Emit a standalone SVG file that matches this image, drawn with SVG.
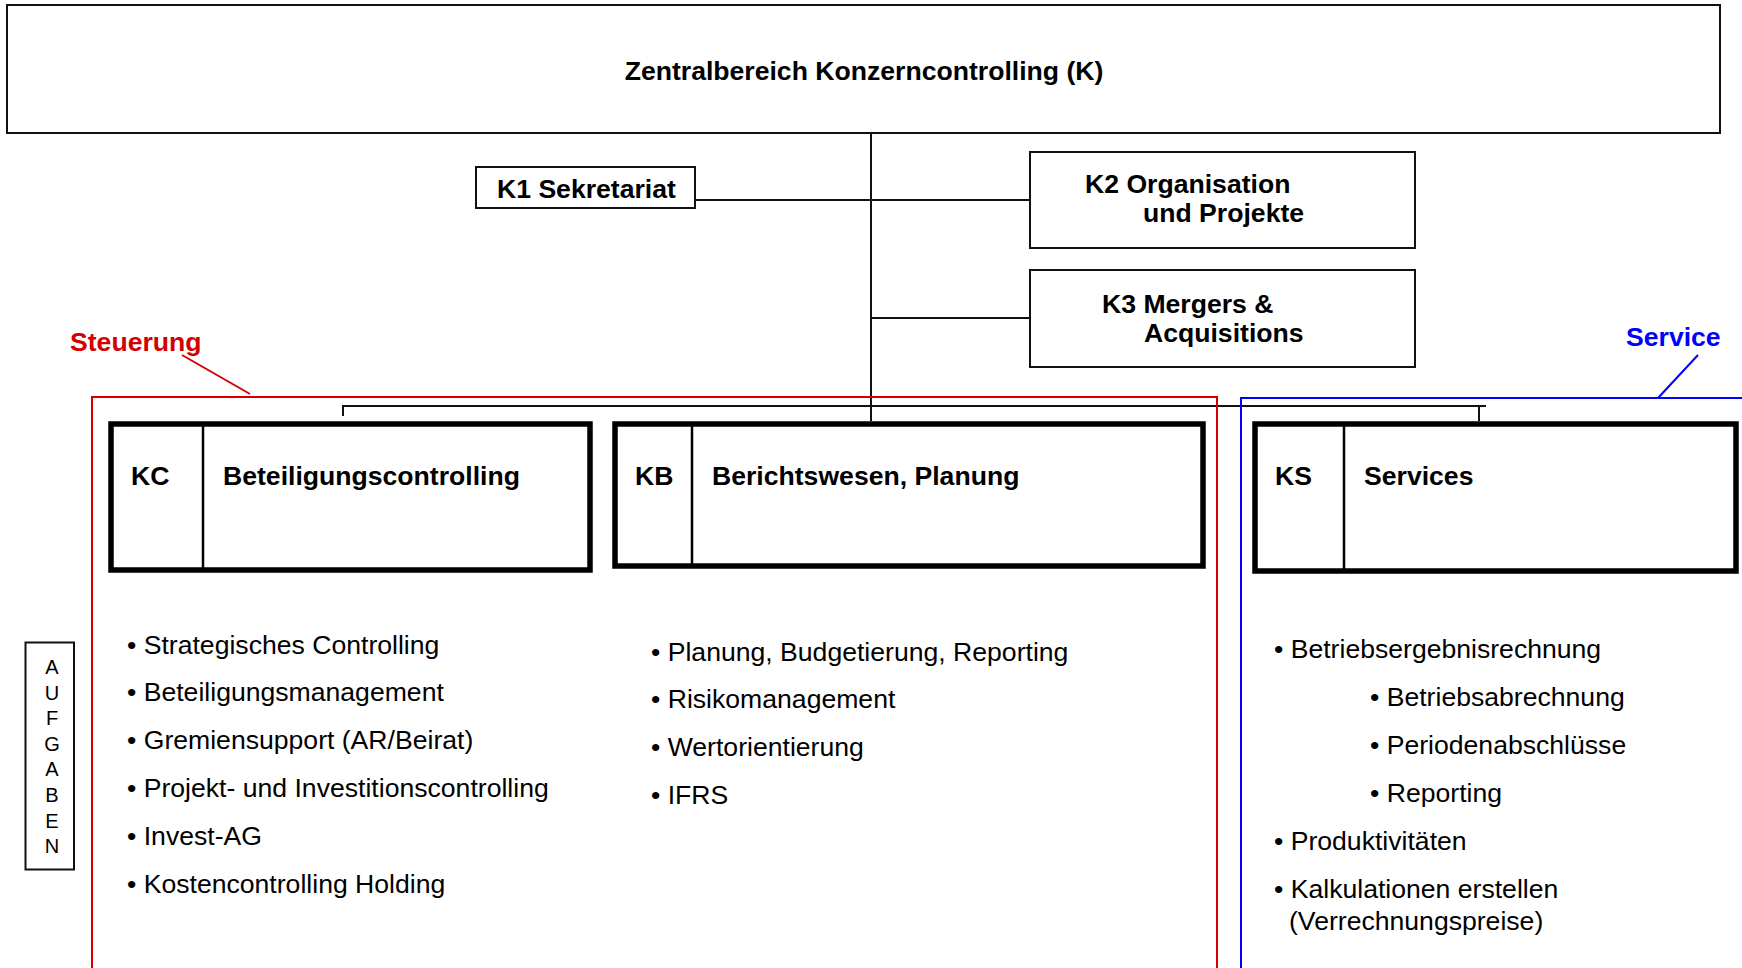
<svg xmlns="http://www.w3.org/2000/svg" width="1742" height="968" viewBox="0 0 1742 968">
  <style>
    .box { fill: #fff; stroke: #111; stroke-width: 2; }
    .unit { fill: #fff; stroke: #000; stroke-width: 5.5; }
    .div { stroke: #000; stroke-width: 2.5; }
    .conn { fill: none; stroke: #111; stroke-width: 2; }
    .hd { font-family: "Liberation Sans", Arial, sans-serif; font-weight: bold; font-size: 26.6px; fill: #000; }
    .li { font-family: "Liberation Sans", Arial, sans-serif; font-size: 26.6px; fill: #000; }
    .vert { font-family: "Liberation Sans", Arial, sans-serif; font-size: 20px; fill: #000; text-anchor: middle; }
    .red { stroke: #d40000; stroke-width: 2; fill: none; }
    .blue { stroke: #0000ff; stroke-width: 2; fill: none; }
  </style>

  <!-- head office -->
  <g id="node-K">
    <rect class="box" x="7" y="5" width="1713" height="128"/>
    <text class="hd" x="864" y="80" text-anchor="middle">Zentralbereich Konzerncontrolling (K)</text>
  </g>

  <!-- connectors -->
  <g id="connectors">
    <line class="conn" x1="871" y1="133" x2="871" y2="421"/>
    <line class="conn" x1="695" y1="200" x2="1030" y2="200"/>
    <line class="conn" x1="871" y1="318" x2="1030" y2="318"/>
    <polyline class="conn" points="343,416 343,406 1486,406"/>
    <line class="conn" x1="1479" y1="406" x2="1479" y2="421"/>
  </g>

  <!-- staff units -->
  <g id="node-K1">
    <rect class="box" x="476" y="167" width="219" height="41"/>
    <text class="hd" x="497" y="198">K1 Sekretariat</text>
  </g>
  <g id="node-K2">
    <rect class="box" x="1030" y="152" width="385" height="96"/>
    <text class="hd" x="1085" y="193">K2 Organisation</text>
    <text class="hd" x="1143" y="222">und Projekte</text>
  </g>
  <g id="node-K3">
    <rect class="box" x="1030" y="270" width="385" height="97"/>
    <text class="hd" x="1102" y="313">K3 Mergers &amp;</text>
    <text class="hd" x="1144" y="342">Acquisitions</text>
  </g>

  <!-- area frames -->
  <g id="area-steuerung">
    <polyline class="red" points="92,968 92,397 1217,397 1217,968"/>
    <line class="red" x1="182" y1="355" x2="250" y2="394"/>
    <text class="hd" x="70" y="351" style="fill:#d40000">Steuerung</text>
  </g>
  <g id="area-service">
    <polyline class="blue" points="1241,968 1241,398 1745,398"/>
    <line class="blue" x1="1698" y1="355" x2="1658" y2="398"/>
    <text class="hd" x="1626" y="346" style="fill:#0000ff">Service</text>
  </g>

  <!-- departments -->
  <g id="node-KC">
    <rect class="unit" x="111" y="424" width="479" height="146"/>
    <line class="div" x1="203" y1="424" x2="203" y2="570"/>
    <text class="hd" x="131" y="485">KC</text>
    <text class="hd" x="223" y="485">Beteiligungscontrolling</text>
  </g>
  <g id="node-KB">
    <rect class="unit" x="615" y="424" width="588" height="142"/>
    <line class="div" x1="692" y1="424" x2="692" y2="566"/>
    <text class="hd" x="635" y="485">KB</text>
    <text class="hd" x="712" y="485">Berichtswesen, Planung</text>
  </g>
  <g id="node-KS">
    <rect class="unit" x="1255" y="424" width="481" height="147"/>
    <line class="div" x1="1344" y1="424" x2="1344" y2="571"/>
    <text class="hd" x="1275" y="485">KS</text>
    <text class="hd" x="1364" y="485">Services</text>
  </g>

  <!-- task lists -->
  <g id="tasks-KC" class="li">
    <text x="127" y="653.5">• Strategisches Controlling</text>
    <text x="127" y="701.3">• Beteiligungsmanagement</text>
    <text x="127" y="749.1">• Gremiensupport (AR/Beirat)</text>
    <text x="127" y="796.9">• Projekt- und Investitionscontrolling</text>
    <text x="127" y="844.7">• Invest-AG</text>
    <text x="127" y="892.5">• Kostencontrolling Holding</text>
  </g>
  <g id="tasks-KB" class="li">
    <text x="651" y="660.5">• Planung, Budgetierung, Reporting</text>
    <text x="651" y="708.3">• Risikomanagement</text>
    <text x="651" y="756.1">• Wertorientierung</text>
    <text x="651" y="803.9">• IFRS</text>
  </g>
  <g id="tasks-KS" class="li">
    <text x="1274" y="657.5">• Betriebsergebnisrechnung</text>
    <text x="1370" y="705.5">• Betriebsabrechnung</text>
    <text x="1370" y="753.5">• Periodenabschlüsse</text>
    <text x="1370" y="801.5">• Reporting</text>
    <text x="1274" y="849.5">• Produktivitäten</text>
    <text x="1274" y="897.5">• Kalkulationen erstellen</text>
    <text x="1289" y="929.5">(Verrechnungspreise)</text>
  </g>

  <!-- vertical caption -->
  <g id="label-aufgaben">
    <rect x="25.5" y="642.5" width="48.5" height="227" fill="#fff" stroke="#111" stroke-width="2"/>
    <text class="vert" x="52" y="674">A</text>
    <text class="vert" x="52" y="699.6">U</text>
    <text class="vert" x="52" y="725.2">F</text>
    <text class="vert" x="52" y="750.8">G</text>
    <text class="vert" x="52" y="776.4">A</text>
    <text class="vert" x="52" y="802">B</text>
    <text class="vert" x="52" y="827.6">E</text>
    <text class="vert" x="52" y="853.2">N</text>
  </g>
</svg>
